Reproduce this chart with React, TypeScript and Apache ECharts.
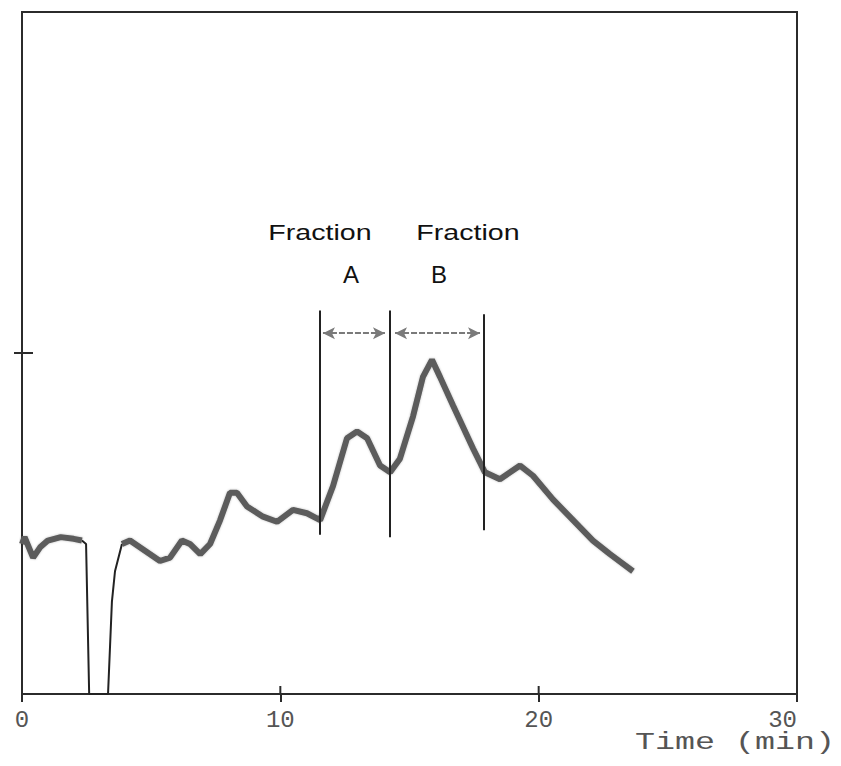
import React, { useEffect, useRef } from "react";
import * as echarts from "echarts";

// Chromatogram trace (time in min, detector response in arbitrary units)
const traceTime = [
  0, 0.1, 0.43, 0.7, 1.0, 1.5, 2.0, 2.32, null,
  3.87, 4.18, 4.76, 5.34, 5.73, 6.19, 6.5, 6.9, 7.28, 7.67, 8.05, 8.32, 8.71,
  9.33, 9.87, 10.49, 11.03, 11.54, 12.04, 12.58, 12.97, 13.36, 13.86, 14.25,
  14.63, 15.14, 15.52, 15.87, 16.18, 16.69, 17.46, 17.92, 18.5, 19.28, 19.78,
  20.56, 21.33, 22.1, 22.76, 23.65,
];
const traceValue = [
  0.44, 0.46, 0.40, 0.43, 0.45, 0.46, 0.455, 0.45, null,
  0.44, 0.45, 0.42, 0.39, 0.40, 0.45, 0.44, 0.41, 0.44, 0.51, 0.59, 0.59, 0.55,
  0.52, 0.505, 0.54, 0.53, 0.51, 0.61, 0.75, 0.77, 0.75, 0.67, 0.65,
  0.69, 0.815, 0.93, 0.98, 0.93, 0.845, 0.72, 0.65, 0.63, 0.67, 0.64,
  0.57, 0.51, 0.45, 0.41, 0.36,
];
// Solvent-front dip (thin pen line)
const dipTime = [2.32, 2.48, 2.6, 3.33, 3.48, 3.6, 3.87];
const dipValue = [0.45, 0.44, 0.0, 0.0, 0.27, 0.36, 0.44];

// Fraction boundaries
const cutTime = [11.54, 14.25, 17.89];
const cutLow = [0.467, 0.46, 0.48];
const cutHigh = [1.125, 1.125, 1.114];
// Fraction arrows
const arrowStart = [11.65, 14.44];
const arrowEnd = [14.05, 17.73];
const arrowLevel = 1.058;

const xTicks = [0, 10, 20, 30];
const xInnerTicks = [10, 20];
const xMin = 0;
const xMax = 30;
const yMin = 0;
const yMax = 2;
const yTickValues = [1];

const fractionLabels = ["Fraction", "Fraction"];
const fractionLetters = ["A", "B"];
const axisTitle = "Time (min)";

export default function App() {
  const ref = useRef<HTMLDivElement>(null);
  useEffect(() => {
    document.body.style.margin = "0";
    if (!ref.current) return;
    const chart = echarts.init(ref.current, null, { renderer: "svg" });

    const trace = traceTime.map((t, i) => (t === null ? [null, null] : [t, traceValue[i]]));
    const dip = dipTime.map((t, i) => [t, dipValue[i]]);
    const cuts = cutTime.map((t, i) => [
      { coord: [t, cutLow[i]] },
      { coord: [t, cutHigh[i]] },
    ]);
    const arrows = arrowStart.map((s, i) => [
      { coord: [s, arrowLevel] },
      { coord: [arrowEnd[i], arrowLevel] },
    ]);

    const axisLineStyle = { color: "#2b2b2b", width: 2 };
    const textColor = "#111";
    const sansFont = "'Liberation Sans', Arial, sans-serif";

    chart.setOption({
      animation: false,
      backgroundColor: "#fff",
      grid: {
        left: 22,
        right: 44,
        top: 12,
        bottom: 72,
        show: true,
        borderColor: "#2b2b2b",
        borderWidth: 2,
      },
      xAxis: {
        type: "value",
        min: xMin,
        max: xMax,
        interval: 10,
        axisLine: { show: true, lineStyle: axisLineStyle },
        axisTick: { show: true, inside: false, length: 8, lineStyle: axisLineStyle },
        splitLine: { show: false },
        axisLabel: {
          color: "#555",
          fontFamily: "'Liberation Mono', monospace",
          fontSize: 24,
          margin: 14,
          alignMaxLabel: "right",
          customValues: xTicks,
        },
      },
      yAxis: {
        type: "value",
        min: yMin,
        max: yMax,
        interval: 1,
        axisLine: { show: true, lineStyle: axisLineStyle },
        axisTick: {
          show: true,
          inside: false,
          length: 8,
          customValues: yTickValues,
          lineStyle: axisLineStyle,
        },
        splitLine: { show: false },
        axisLabel: { show: false },
      },
      series: [
        {
          type: "line",
          data: dip,
          showSymbol: false,
          symbol: "none",
          lineStyle: { color: "#222", width: 2 },
          z: 3,
        },
        {
          type: "line",
          data: trace,
          showSymbol: false,
          symbol: "none",
          connectNulls: false,
          lineStyle: { color: "#5c5c5c", width: 6, shadowColor: "rgba(0,0,0,0.25)", shadowBlur: 2 },
          z: 4,
          markLine: {
            silent: true,
            symbol: ["none", "none"],
            label: { show: false },
            lineStyle: { color: "#222", width: 2, type: "solid" },
            data: cuts,
          },
        },
        {
          type: "line",
          data: [],
          markLine: {
            silent: true,
            symbol: ["arrow", "arrow"],
            symbolSize: [9, 12],
            label: { show: false },
            lineStyle: { color: "#7a7a7a", width: 2, type: [6, 2] },
            data: arrows,
          },
        },
      ],
    });

    // inner halves of the crossing ticks, placed through the axes' scales
    const tickGraphics: any[] = [];
    xInnerTicks.forEach((v) => {
      const p = chart.convertToPixel({ gridIndex: 0 }, [v, yMin]);
      tickGraphics.push({
        type: "line",
        shape: { x1: p[0], y1: p[1], x2: p[0], y2: p[1] - 8 },
        style: { stroke: "#2b2b2b", lineWidth: 2 },
      });
    });
    yTickValues.forEach((v) => {
      const p = chart.convertToPixel({ gridIndex: 0 }, [xMin, v]);
      tickGraphics.push({
        type: "line",
        shape: { x1: p[0], y1: p[1], x2: p[0] + 11, y2: p[1] },
        style: { stroke: "#2b2b2b", lineWidth: 2 },
      });
    });

    chart.setOption({
      graphic: [
        ...tickGraphics,
        {
          type: "text",
          x: 320,
          y: 232,
          scaleX: 1.3,
          style: {
            text: fractionLabels[0],
            font: `22px ${sansFont}`,
            fill: textColor,
            align: "center",
            verticalAlign: "middle",
          },
        },
        {
          type: "text",
          x: 351,
          y: 274,
          style: {
            text: fractionLetters[0],
            font: `24px ${sansFont}`,
            fill: textColor,
            align: "center",
            verticalAlign: "middle",
          },
        },
        {
          type: "text",
          x: 468,
          y: 232,
          scaleX: 1.3,
          style: {
            text: fractionLabels[1],
            font: `22px ${sansFont}`,
            fill: textColor,
            align: "center",
            verticalAlign: "middle",
          },
        },
        {
          type: "text",
          x: 439,
          y: 274,
          style: {
            text: fractionLetters[1],
            font: `24px ${sansFont}`,
            fill: textColor,
            align: "center",
            verticalAlign: "middle",
          },
        },
        {
          type: "text",
          x: 735,
          y: 743,
          scaleX: 1.45,
          style: {
            text: axisTitle,
            font: "23px 'Liberation Mono', monospace",
            fill: "#555",
            align: "center",
            verticalAlign: "middle",
          },
        },
      ],
    });
    return () => chart.dispose();
  }, []);
  return <div ref={ref} style={{ width: 841, height: 766 }} />;
}
